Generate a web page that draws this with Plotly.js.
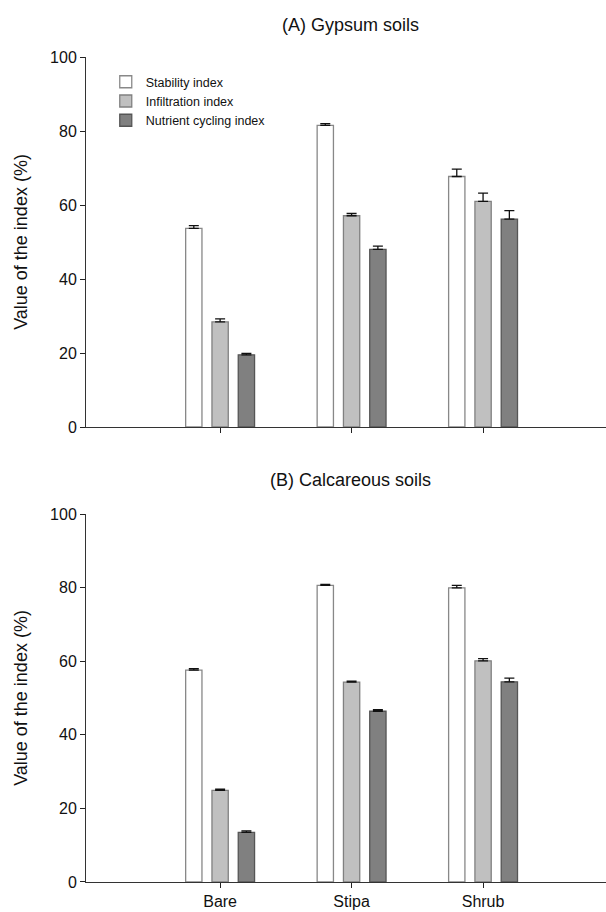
<!DOCTYPE html>
<html>
<head>
<meta charset="utf-8">
<script src="https://cdn.plot.ly/plotly-3.0.1.min.js"></script>
<style>html,body{margin:0;padding:0;background:#fff;}#chart{width:606px;height:912px;}</style>
</head>
<body>
<div id="chart"></div>
<script>
// Categories
const categories = ["Bare", "Stipa", "Shrub"];
const catPos = [0, 1, 2];
const seriesNames = ["Stability index", "Infiltration index", "Nutrient cycling index"];

// (A) Gypsum soils
const gypStability = [53.7, 81.5, 67.7];
const gypStabilityErr = [0.7, 0.5, 2.0];
const gypInfiltration = [28.4, 57.1, 61.0];
const gypInfiltrationErr = [0.8, 0.6, 2.2];
const gypNutrient = [19.5, 48.0, 56.2];
const gypNutrientErr = [0.4, 0.9, 2.3];

// (B) Calcareous soils
const calStability = [57.6, 80.6, 79.9];
const calStabilityErr = [0.4, 0.3, 0.7];
const calInfiltration = [24.9, 54.3, 60.1];
const calInfiltrationErr = [0.3, 0.3, 0.6];
const calNutrient = [13.5, 46.4, 54.4];
const calNutrientErr = [0.4, 0.4, 1.0];

const yTicks = [0, 20, 40, 60, 80, 100];

const fills = ["#ffffff", "#c0c0c0", "#808080"];
const outlines = ["#888888", "#808080", "#555555"];
const FONT = "Liberation Sans, Arial, sans-serif";

function barTrace(i, y, err, xa, ya, showLegend) {
  return {
    type: "bar",
    name: seriesNames[i],
    x: catPos,
    y: y,
    xaxis: xa,
    yaxis: ya,
    legendgroup: "s" + i,
    showlegend: showLegend,
    marker: {color: fills[i], line: {color: outlines[i], width: 1.3}},
    error_y: {type: "data", array: err, symmetric: false, arrayminus: err.map(() => 0),
              color: "#111", thickness: 1.3, width: 5},
    hoverinfo: "skip"
  };
}

const data = [
  barTrace(0, gypStability, gypStabilityErr, "x", "y", true),
  barTrace(1, gypInfiltration, gypInfiltrationErr, "x", "y", true),
  barTrace(2, gypNutrient, gypNutrientErr, "x", "y", true),
  barTrace(0, calStability, calStabilityErr, "x2", "y2", false),
  barTrace(1, calInfiltration, calInfiltrationErr, "x2", "y2", false),
  barTrace(2, calNutrient, calNutrientErr, "x2", "y2", false)
];

const xCommon = {
  range: [-1.02, 2.935],
  tickmode: "array",
  tickvals: catPos,
  ticktext: categories,
  ticks: "outside", ticklen: 5, tickwidth: 1, tickcolor: "#222",
  showline: true, linecolor: "#333", linewidth: 1,
  showgrid: false, zeroline: false,
  tickfont: {family: FONT, size: 16, color: "#111"},
  fixedrange: true
};
const yCommon = {
  range: [0, 100],
  tickmode: "array",
  tickvals: yTicks,
  ticks: "outside", ticklen: 5, tickwidth: 1, tickcolor: "#222",
  showline: true, linecolor: "#333", linewidth: 1,
  showgrid: false, zeroline: false,
  tickfont: {family: FONT, size: 16, color: "#111"},
  title: {text: "Value of the index (%)", font: {family: FONT, size: 18, color: "#111"}, standoff: 17},
  fixedrange: true
};

const layout = {
  width: 606, height: 912,
  margin: {l: 86, r: 0, t: 0, b: 0},
  paper_bgcolor: "#fff", plot_bgcolor: "#fff",
  barmode: "group",
  bargap: 0.4,
  bargroupgap: 0.38,
  showlegend: true,
  legend: {
    x: 0.038, y: 0.9264, xanchor: "left", yanchor: "top",
    font: {family: FONT, size: 12.5, color: "#111"},
    bgcolor: "rgba(0,0,0,0)", tracegroupgap: 0,
    itemwidth: 30
  },
  xaxis: Object.assign({}, xCommon, {domain: [0, 1], anchor: "y", showticklabels: false}),
  yaxis: Object.assign({}, yCommon, {domain: [0.5318, 0.9375], anchor: "x"}),
  xaxis2: Object.assign({}, xCommon, {domain: [0, 1], anchor: "y2", showticklabels: true}),
  yaxis2: Object.assign({}, yCommon, {domain: [0.0329, 0.4364], anchor: "x2"}),
  annotations: [
    {text: "(A) Gypsum soils", xref: "paper", yref: "paper", x: 0.508, y: 1 - 25/912,
     xanchor: "center", yanchor: "middle", showarrow: false,
     font: {family: FONT, size: 18, color: "#111"}},
    {text: "(B) Calcareous soils", xref: "paper", yref: "paper", x: 0.508, y: 1 - 480/912,
     xanchor: "center", yanchor: "middle", showarrow: false,
     font: {family: FONT, size: 18, color: "#111"}}
  ]
};

Plotly.newPlot("chart", data, layout, {displayModeBar: false, staticPlot: true});
</script>
</body>
</html>
